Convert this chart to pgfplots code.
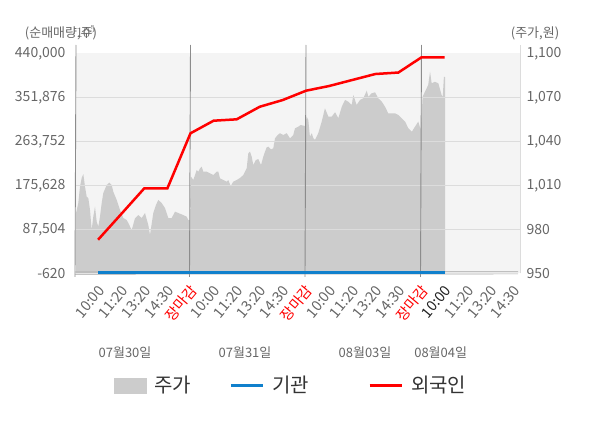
\documentclass[border=0pt]{standalone}
\usepackage{pgfplots}
\pgfplotsset{compat=1.18}
\usepackage{pgfplotstable}
\usepackage{fontspec}
\setmainfont{Noto Sans CJK KR}
\definecolor{areagray}{HTML}{CCCCCC}
\definecolor{bggray}{HTML}{F4F4F4}
\definecolor{gridgray}{HTML}{DCDCDC}
\definecolor{labgray}{HTML}{666666}
\definecolor{linegray}{HTML}{8C8C8C}
\definecolor{instblue}{HTML}{1080CC}
\definecolor{forred}{HTML}{FF0000}
\definecolor{legtext}{HTML}{333333}
\definecolor{darklab}{HTML}{222222}

% stock price (right axis), x in session units
\pgfplotstableread{
u p
0.043 990.9
0.143 997.9
0.216 1009.0
0.290 1015.0
0.360 1017.7
0.433 1009.0
0.506 1002.2
0.576 1001.3
0.649 993.2
0.723 979.5
0.792 988.6
0.866 995.4
0.939 985.2
1.009 981.8
1.082 988.6
1.156 997.9
1.225 1004.7
1.372 1010.2
1.485 1011.8
1.589 1010.2
1.658 1005.6
1.805 1000.0
1.948 993.2
2.091 987.7
2.238 986.3
2.307 984.3
2.455 979.5
2.597 987.5
2.740 989.7
2.887 987.7
3.030 991.1
3.173 982.9
3.247 976.1
3.390 991.1
3.506 996.6
3.606 1000.0
3.753 997.9
3.896 994.5
4.039 987.7
4.186 987.7
4.329 992.0
4.472 991.1
4.688 989.7
4.835 988.6
4.905 986.3
4.978 986.3
5.022 1015.9
5.121 1013.6
5.195 1017.0
5.268 1020.4
5.338 1019.3
5.411 1021.6
5.485 1022.7
5.554 1019.3
5.701 1019.3
5.844 1018.2
5.987 1017.0
6.134 1019.3
6.203 1019.3
6.277 1014.8
6.420 1013.6
6.567 1012.5
6.636 1013.6
6.740 1009.5
6.853 1012.5
7.000 1013.6
7.143 1015.0
7.286 1017.0
7.433 1021.6
7.502 1031.8
7.576 1032.9
7.649 1029.5
7.719 1023.8
7.823 1027.2
7.935 1027.9
8.052 1023.8
8.152 1029.5
8.225 1032.9
8.299 1035.9
8.368 1036.3
8.485 1034.5
8.584 1035.2
8.658 1042.0
8.775 1044.3
8.874 1045.5
9.017 1044.3
9.165 1045.5
9.307 1042.0
9.450 1044.3
9.524 1048.9
9.667 1050.0
9.771 1051.1
9.957 1050.4
10.030 1056.8
10.100 1054.5
10.170 1043.1
10.250 1045.5
10.320 1042.0
10.390 1040.9
10.530 1045.5
10.680 1053.4
10.820 1062.5
10.970 1056.8
11.110 1056.8
11.260 1059.8
11.400 1055.7
11.550 1063.6
11.690 1068.2
11.830 1067.0
11.980 1064.8
12.050 1071.6
12.190 1064.8
12.340 1068.2
12.480 1069.3
12.630 1074.5
12.700 1070.4
12.840 1072.7
12.990 1073.4
13.130 1069.3
13.280 1067.0
13.420 1063.6
13.560 1059.1
13.710 1059.1
13.850 1059.1
14.000 1057.9
14.140 1055.7
14.290 1053.4
14.430 1048.9
14.580 1046.5
14.720 1050.0
14.860 1053.4
14.970 1047.7
15.050 1070.4
15.150 1073.8
15.290 1078.4
15.370 1087.5
15.440 1079.5
15.580 1080.6
15.730 1079.5
15.870 1071.6
15.920 1070.4
15.970 1084.0
16.020 1083.8
}\pricedata

% net buying, foreigners (left axis)
\pgfplotstableread{
u v
1 66700
2 118000
3 169600
4 169600
5 279800
6 305000
7 307800
8 333000
9 346500
10 365100
11 374500
12 386500
13 398500
14 401500
15 432000
16 432000
}\foreigndata

% net buying, institutions (left axis)
\pgfplotstableread{
u v
1 0
2 0
3 0
4 0
5 0
6 0
7 0
8 0
9 0
10 0
11 0
12 0
13 0
14 0
15 0
16 0
}\instdata

\newcommand{\tickfont}{\fontsize{14bp}{16bp}\selectfont}
\newcommand{\xtickfont}{\fontsize{14.5bp}{16bp}\selectfont}
\newcommand{\smallfont}{\fontsize{13bp}{15bp}\selectfont}

\begin{document}
\begin{tikzpicture}
\path[use as bounding box] (-76bp,-154.7bp) rectangle (524bp,273.3bp);

% ---- right axis: price area ----
\begin{axis}[
  at={(0,0)}, anchor=south west,
  scale only axis, width=444bp, height=228.3bp,
  xmin=0.0433, xmax=19.264,
  ymin=950, ymax=1105.66,
  axis line style={draw=none},
  xtick=\empty,
  ytick={950,980,1010,1040,1070,1100},
  yticklabels={950,980,{1,010},{1,040},{1,070},{1,100}},
  yticklabel pos=right,
  major tick length=0pt,
  yticklabel style={font=\tickfont, text=labgray, xshift=3bp},
]
\fill[bggray] (axis cs:0.0433,950) rectangle (axis cs:19.264,1100);
\addplot[draw=none, fill=areagray] table[x=u,y=p]{\pricedata} \closedcycle;
\end{axis}

% ---- left axis: net buying ----
\begin{axis}[
  at={(0,0)}, anchor=south west,
  scale only axis, width=444bp, height=228.3bp,
  xmin=0.0433, xmax=19.264,
  ymin=-620, ymax=456630,
  axis line style={draw=none},
  clip=false,
  xtick={1,...,19},
  xticklabels={10:00,11:20,13:20,14:30,\textcolor{forred}{장마감},10:00,11:20,13:20,14:30,\textcolor{forred}{장마감},10:00,11:20,13:20,14:30,\textcolor{forred}{장마감},\textcolor{darklab}{10:00},11:20,13:20,14:30},
  xticklabel style={xshift=5.5bp, yshift=-12bp, rotate=50, anchor=east, font=\xtickfont, text=labgray},
  ytick={-620,87504,175628,263752,351876,440000},
  yticklabels={-620,{87,504},{175,628},{263,752},{351,876},{440,000}},
  yticklabel pos=left,
  yticklabel style={font=\tickfont, text=labgray, xshift=-7bp},
  major tick length=0pt,
  legend columns=3,
  legend cell align=left,
  legend style={at={(0.0856,-0.4906)}, anchor=west, draw=none, fill=none,
    inner sep=0pt, font=\fontsize{20bp}{22bp}\selectfont, text=legtext,
    /tikz/every odd column/.append style={column sep=6bp},
    /tikz/every even column/.append style={column sep=36bp}},
]
\pgfplotsinvokeforeach{87504,175628,263752,351876}{
  \draw[gridgray, line width=0.9bp] (axis cs:0.0433,#1) -- (axis cs:19.264,#1);
}
\pgfplotsinvokeforeach{5,10,15}{
  \draw[linegray, line width=0.9bp] (axis cs:#1,-620) ++(0,-4bp) -- (axis cs:#1,456630);
}
\draw[linegray, line width=0.9bp] (axis cs:0.0433,-620) ++(0,-4bp) -- (axis cs:0.0433,456630);
\draw[gridgray, line width=0.9bp] (axis cs:19.264,-620) -- (axis cs:19.264,456630);
\draw[linegray!80, line width=0.7bp] (axis cs:0.0433,-620) ++(0,1bp) -- ++(444bp,0);
\draw[linegray!80, line width=0.7bp] (axis cs:0.0433,-620) ++(0,-1.2bp) -- ++(444bp,0);

\addlegendimage{legend image code/.code={\fill[areagray] (0bp,-7.5bp) rectangle (32bp,7.5bp);}}
\addlegendentry{주가}
\addplot[instblue, line width=3bp,
  legend image code/.code={\draw[instblue, line width=3bp] (0bp,0bp) -- (32bp,0bp);}]
  table[x=u,y=v]{\instdata};
\addlegendentry{기관\hspace*{21bp}}
\addplot[forred, line width=2.5bp,
  legend image code/.code={\draw[forred, line width=3bp] (0bp,0bp) -- (32bp,0bp);}]
  table[x=u,y=v]{\foreigndata};
\addlegendentry{외국인}
\end{axis}

\node[text=labgray, font=\smallfont] at (-15bp,240.3bp) {(순매매량,주)};
\node[text=labgray, font=\smallfont] at (459bp,240.3bp) {(주가,원)};
\node[text=labgray, font=\smallfont] at (49bp,-79.7bp) {07월30일};
\node[text=labgray, font=\smallfont] at (169bp,-79.7bp) {07월31일};
\node[text=labgray, font=\smallfont] at (289bp,-79.7bp) {08월03일};
\node[text=labgray, font=\smallfont] at (364.7bp,-79.7bp) {08월04일};
\end{tikzpicture}
\end{document}
